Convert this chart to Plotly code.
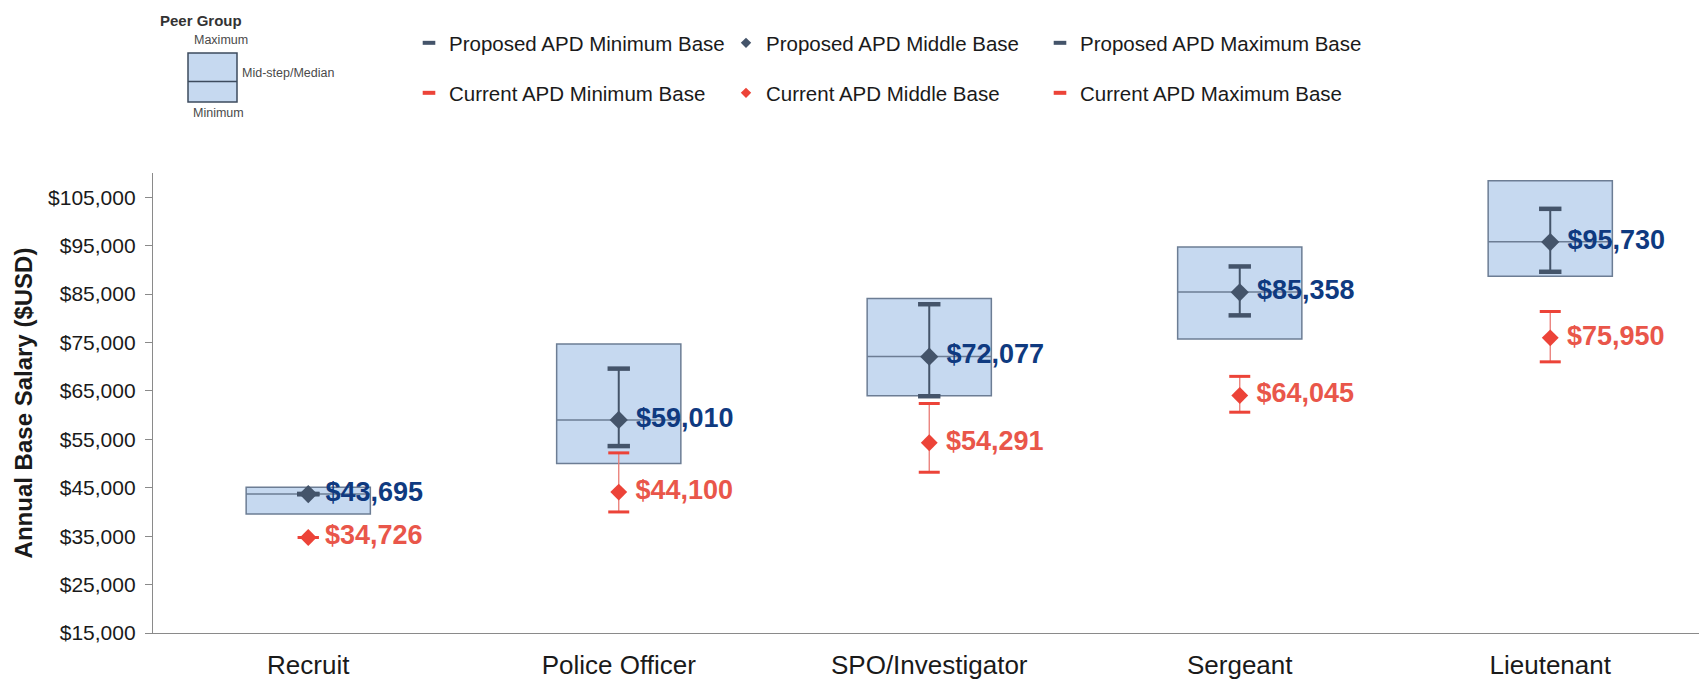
import plotly.graph_objects as go

# ---------------- data ----------------
categories = ["Recruit", "Police Officer", "SPO/Investigator", "Sergeant", "Lieutenant"]

peer_min = [39600, 50000, 64000, 75700, 88700]
peer_med = [43700, 59010, 72100, 85400, 95800]
peer_max = [45100, 74700, 84100, 94700, 108400]

prop_min = [43695, 53600, 63900, 80600, 89600]
prop_mid = [43695, 59010, 72077, 85358, 95730]
prop_max = [43695, 69600, 82900, 90700, 102600]

cur_min = [34726, 40000, 48200, 60600, 71000]
cur_mid = [34726, 44100, 54291, 64045, 75950]
cur_max = [34726, 52200, 62400, 68000, 81400]

y_ticks = [15000, 25000, 35000, 45000, 55000, 65000, 75000, 85000, 95000, 105000]
y_tick_text = [f"${v:,}" for v in y_ticks]

# ---------------- style ----------------
FONT = "Liberation Sans, Arial, sans-serif"
BOX_FILL = "#c6d9f0"
BOX_LINE = "#6c7d94"
PROP = "#44546a"
PROP_TXT = "#0f3a80"
CUR = "#ec4338"
CUR_LINE = "#e97a74"
CUR_TXT = "#e9564a"
AXIS = "#8a8a8a"

W, H = 1699, 679
ML, MR, MT, MB = 153, 0, 173, 46
PW, PH = W - ML - MR, H - MT - MB


def px_x(px):
    return (px - ML) / PW


def px_y(py):
    return (H - MB - py) / PH


x = list(range(len(categories)))

fig = go.Figure()

# Peer group boxes
fig.add_trace(go.Box(
    x=x, q1=peer_min, median=peer_med, q3=peer_max,
    lowerfence=peer_min, upperfence=peer_max,
    width=0.4, whiskerwidth=0, boxpoints=False,
    fillcolor=BOX_FILL, line=dict(color=BOX_LINE, width=1.5),
    showlegend=False, hoverinfo="skip",
))


def hl(lo, hi):
    xs, ys = [], []
    for i, (a, b) in enumerate(zip(lo, hi)):
        xs += [i, i, None]
        ys += [a, b, None]
    return xs, ys


# high-low lines
cx, cy = hl(cur_min, cur_max)
fig.add_trace(go.Scatter(x=cx, y=cy, mode="lines", line=dict(color=CUR_LINE, width=1.3),
                         showlegend=False, hoverinfo="skip"))
px_, py_ = hl(prop_min, prop_max)
fig.add_trace(go.Scatter(x=px_, y=py_, mode="lines", line=dict(color=PROP, width=2),
                         showlegend=False, hoverinfo="skip"))

# caps
for vals, col, sz, lw in [(cur_min, CUR, 15, 3), (cur_max, CUR, 15, 3),
                          (prop_min, PROP, 16, 4.5), (prop_max, PROP, 16, 4.5)]:
    fig.add_trace(go.Scatter(
        x=x, y=vals, mode="markers",
        marker=dict(symbol="line-ew", size=sz, color=col, line=dict(color=col, width=lw)),
        showlegend=False,
    ))

# middle diamonds with labels
fig.add_trace(go.Scatter(
    x=x, y=cur_mid, mode="markers+text",
    marker=dict(symbol="diamond", size=13, color=CUR),
    text=[f" ${v:,}" for v in cur_mid], textposition="middle right",
    textfont=dict(family=FONT, size=27, color=CUR_TXT, weight="bold"),
    showlegend=False,
))
fig.add_trace(go.Scatter(
    x=x, y=prop_mid, mode="markers+text",
    marker=dict(symbol="diamond", size=14, color=PROP),
    text=[f" ${v:,}" for v in prop_mid], textposition="middle right",
    textfont=dict(family=FONT, size=27, color=PROP_TXT, weight="bold"),
    showlegend=False,
))

# legend entries (one legend per entry, laid out as a 3x2 grid)
legend_items = [
    ("Proposed APD Minimum Base", "line-ew", PROP, "legend"),
    ("Proposed APD Middle Base", "diamond", PROP, "legend2"),
    ("Proposed APD Maximum Base", "line-ew", PROP, "legend3"),
    ("Current APD Minimum Base", "line-ew", CUR, "legend4"),
    ("Current APD Middle Base", "diamond", CUR, "legend5"),
    ("Current APD Maximum Base", "line-ew", CUR, "legend6"),
]
for name, sym, col, lg in legend_items:
    if sym == "diamond":
        mk = dict(symbol="diamond", size=8, color=col)
    else:
        mk = dict(symbol="line-ew", size=9, color=col, line=dict(color=col, width=4))
    fig.add_trace(go.Scatter(x=[None], y=[None], mode="markers", marker=mk,
                             name=name, legend=lg, showlegend=True))

leg_pos = {
    "legend": (409, 43), "legend2": (726, 43), "legend3": (1040, 43),
    "legend4": (409, 93), "legend5": (726, 93), "legend6": (1040, 93),
}
leg_layout = {}
for lg, (lx, ly) in leg_pos.items():
    leg_layout[lg] = dict(
        x=px_x(lx), y=px_y(ly), xanchor="left", yanchor="middle",
        orientation="h", bgcolor="rgba(0,0,0,0)", borderwidth=0,
        font=dict(family=FONT, size=20.5, color="#1a1a1a"),
        itemclick=False, itemdoubleclick=False,
    )

# Peer group key (top-left)
shapes = [
    dict(type="rect", xref="paper", yref="paper",
         x0=px_x(188), x1=px_x(237), y0=px_y(102), y1=px_y(53),
         fillcolor=BOX_FILL, line=dict(color="#3d4b5e", width=1.5)),
    dict(type="line", xref="paper", yref="paper",
         x0=px_x(188), x1=px_x(237), y0=px_y(81.5), y1=px_y(81.5),
         line=dict(color="#3d4b5e", width=1.5)),
]
annotations = [
    dict(text="<b>Peer Group</b>", x=px_x(158), y=px_y(20), xref="paper", yref="paper",
         xanchor="left", yanchor="middle", showarrow=False,
         font=dict(family=FONT, size=15, color="#333333")),
    dict(text="Maximum", x=px_x(221), y=px_y(40), xref="paper", yref="paper",
         xanchor="center", yanchor="middle", showarrow=False,
         font=dict(family=FONT, size=12.5, color="#4a4a4a")),
    dict(text="Mid-step/Median", x=px_x(240), y=px_y(73), xref="paper", yref="paper",
         xanchor="left", yanchor="middle", showarrow=False,
         font=dict(family=FONT, size=12.5, color="#4a4a4a")),
    dict(text="Minimum", x=px_x(218), y=px_y(113), xref="paper", yref="paper",
         xanchor="center", yanchor="middle", showarrow=False,
         font=dict(family=FONT, size=12.5, color="#4a4a4a")),
]

fig.update_layout(
    width=W, height=H,
    margin=dict(l=ML, r=MR, t=MT, b=MB, autoexpand=False),
    paper_bgcolor="white", plot_bgcolor="white",
    font=dict(family=FONT, color="#1a1a1a"),
    shapes=shapes, annotations=annotations,
    **leg_layout,
)

fig.update_xaxes(
    range=[-0.5, -0.5 + PW / 310.5],
    tickmode="array", tickvals=x, ticktext=categories,
    showline=True, linecolor=AXIS, linewidth=1.3,
    showgrid=False, zeroline=False, ticks="",
    tickfont=dict(family=FONT, size=26, color="#1a1a1a"),
    ticklabelstandoff=9,
)
fig.update_yaxes(
    range=[15000, 110000],
    tickmode="array", tickvals=y_ticks, ticktext=y_tick_text,
    showline=True, linecolor=AXIS, linewidth=1.3,
    showgrid=False, zeroline=False, ticks="outside", ticklen=7, tickcolor=AXIS,
    tickfont=dict(family=FONT, size=21, color="#1a1a1a"),
    ticklabelstandoff=5,
    title=dict(text="<b>Annual Base Salary ($USD)</b>", standoff=8,
               font=dict(family=FONT, size=24, color="#1a1a1a")),
)

fig.write_html("out.html", config={"displayModeBar": False},
               post_script="document.body.style.margin='0px';")
